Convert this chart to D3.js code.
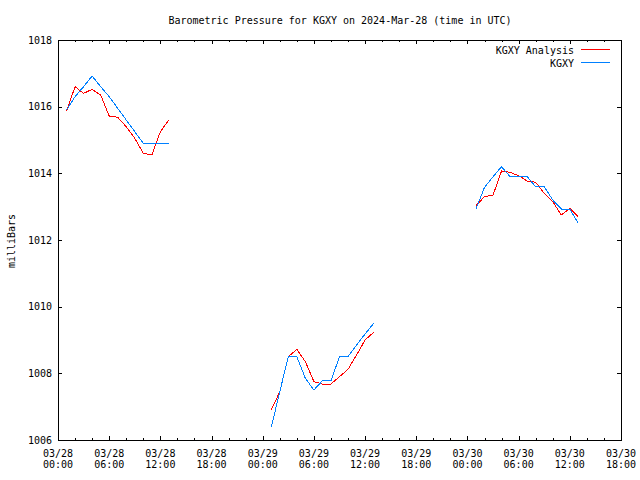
<!DOCTYPE html>
<html><head><meta charset="utf-8">
<script src="https://cdn.jsdelivr.net/npm/d3@7"></script>
<style>
body{margin:0;background:#fff;}
text{font-family:"DejaVu Sans Mono","Liberation Mono",monospace;font-size:10px;fill:#000;}
</style></head>
<body><svg id="c" width="640" height="480"></svg>
<script>
const startISO = "2024-03-28T00:00:00Z";
// hours after start
const hours = [1,2,3,4,5,6,7,8,9,10,11,12,13,
               25,26,27,28,29,30,31,32,33,34,35,36,37,
               49,50,51,52,53,54,55,56,57,58,59,60,61];
const analysis = [1015.87,1016.6,1016.4,1016.52,1016.35,1015.72,1015.68,1015.4,1015.05,1014.6,1014.55,1015.25,1015.6,
                  1006.9,1007.45,1008.5,1008.72,1008.35,1007.75,1007.68,1007.68,1007.9,1008.12,1008.55,1009.0,1009.23,
                  1013.03,1013.3,1013.35,1014.07,1014.03,1013.93,1013.77,1013.73,1013.4,1013.15,1012.75,1012.95,1012.7];
const observed = [1015.9,1016.3,1016.6,1016.92,1016.6,1016.3,1015.95,1015.6,1015.25,1014.9,1014.9,1014.9,1014.9,
                  1006.38,1007.45,1008.5,1008.5,1007.85,1007.5,1007.78,1007.78,1008.5,1008.5,1008.85,1009.18,1009.5,
                  1012.93,1013.58,1013.9,1014.2,1013.9,1013.9,1013.9,1013.6,1013.6,1013.2,1012.93,1012.93,1012.5];
const seriesNames = ["KGXY Analysis","KGXY"];
const seriesColors = ["#ff0000","#0080ff"];
const yTicks = [1006,1008,1010,1012,1014,1016,1018];
const xDomainHours = [0,66];
const title = "Barometric Pressure for KGXY on 2024-Mar-28 (time in UTC)";
const yLabel = "milliBars";

const t0 = new Date(startISO);
const toDate = h => new Date(t0.getTime() + h*3600e3);

const L=58, R=621, T=40, B=440;
const svg = d3.select("#c");
const x = d3.scaleUtc().domain(xDomainHours.map(toDate)).range([L,R]);
const y = d3.scaleLinear().domain([1006,1018]).range([B,T]);

svg.append("text").attr("x",340).attr("y",24).attr("text-anchor","middle").text(title);
svg.append("text").attr("transform","translate(15,241) rotate(-90)").attr("text-anchor","middle").text(yLabel);

const g = svg.append("g").attr("shape-rendering","crispEdges");
const major = d3.range(xDomainHours[0], xDomainHours[1]+1, 6).map(toDate);
const minor = d3.range(xDomainHours[0], xDomainHours[1]+1, 2).map(toDate);

// x ticks bottom and top
minor.forEach(d=>{
  const px = Math.round(x(d))+0.5;
  g.append("line").attr("x1",px).attr("x2",px).attr("y1",B).attr("y2",B-2).attr("stroke","#000");
  g.append("line").attr("x1",px).attr("x2",px).attr("y1",T).attr("y2",T+2).attr("stroke","#000");
});
major.forEach(d=>{
  const px = Math.round(x(d))+0.5;
  g.append("line").attr("x1",px).attr("x2",px).attr("y1",B).attr("y2",B-4).attr("stroke","#000");
  g.append("line").attr("x1",px).attr("x2",px).attr("y1",T).attr("y2",T+4).attr("stroke","#000");
  svg.append("text").attr("x",x(d)).attr("y",457).attr("text-anchor","middle").text(d3.utcFormat("%m/%d")(d));
  svg.append("text").attr("x",x(d)).attr("y",468).attr("text-anchor","middle").text(d3.utcFormat("%H:%M")(d));
});
yTicks.forEach(v=>{
  const py = Math.round(y(v))+0.5;
  g.append("line").attr("x1",L).attr("x2",L+4).attr("y1",py).attr("y2",py).attr("stroke","#000");
  g.append("line").attr("x1",R).attr("x2",R-4).attr("y1",py).attr("y2",py).attr("stroke","#000");
  svg.append("text").attr("x",52).attr("y",y(v)+3.5).attr("text-anchor","end").text(v);
});

const pts = (vals) => hours.map((h,i)=>({h, v: vals[i]}));
function segments(arr){
  const segs=[]; let cur=[];
  arr.forEach((p,i)=>{
    if(i>0 && p.h - arr[i-1].h > 1){ segs.push(cur); cur=[]; }
    cur.push(p);
  });
  segs.push(cur); return segs;
}
const line = d3.line().x(d=>x(toDate(d.h))).y(d=>y(d.v));
[analysis, observed].forEach((vals,k)=>{
  segments(pts(vals)).forEach(s=>{
    g.append("path").attr("d",line(s)).attr("fill","none").attr("stroke",seriesColors[k]).attr("stroke-width",1);
  });
});

// frame
g.append("rect").attr("x",L+0.5).attr("y",T+0.5).attr("width",R-L).attr("height",B-T).attr("fill","none").attr("stroke","#000");

// legend
seriesNames.forEach((n,i)=>{
  const ly = 50 + i*13;
  svg.append("text").attr("x",574).attr("y",ly+3.5).attr("text-anchor","end").text(n);
  g.append("line").attr("x1",581).attr("x2",610).attr("y1",Math.round(ly)-0.5).attr("y2",Math.round(ly)-0.5).attr("stroke",seriesColors[i]);
});
</script></body></html>
